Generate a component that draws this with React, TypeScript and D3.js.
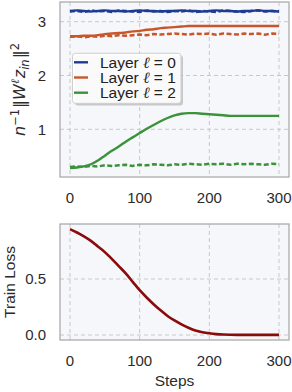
import React from 'react';
import * as d3 from 'd3';

// x positions shared by every series
const steps = [0, 10, 20, 30, 40, 50, 60, 70, 80, 90, 100, 110, 120, 130, 140, 150, 160, 170, 180, 190, 200, 210, 220, 230, 240, 250, 260, 270, 280, 290, 300];

// top panel: solid = trained, dashed = init reference
const blueSolid = [3.20, 3.21, 3.20, 3.19, 3.20, 3.21, 3.20, 3.20, 3.19, 3.20, 3.21, 3.20, 3.20, 3.19, 3.20, 3.20, 3.21, 3.20, 3.20, 3.19, 3.20, 3.21, 3.20, 3.20, 3.19, 3.20, 3.20, 3.21, 3.20, 3.20, 3.19];
const blueDashed = [3.19, 3.20, 3.18, 3.21, 3.19, 3.20, 3.18, 3.21, 3.20, 3.19, 3.18, 3.21, 3.19, 3.20, 3.18, 3.20, 3.19, 3.21, 3.18, 3.20, 3.19, 3.18, 3.21, 3.20, 3.19, 3.18, 3.20, 3.21, 3.19, 3.20, 3.19];
const orangeSolid = [2.73, 2.73, 2.74, 2.74, 2.75, 2.77, 2.78, 2.79, 2.80, 2.82, 2.83, 2.85, 2.86, 2.88, 2.89, 2.90, 2.91, 2.92, 2.92, 2.92, 2.92, 2.92, 2.92, 2.92, 2.92, 2.92, 2.92, 2.92, 2.92, 2.92, 2.92];
const orangeDashed = [2.72, 2.73, 2.71, 2.73, 2.72, 2.74, 2.73, 2.75, 2.74, 2.75, 2.76, 2.75, 2.77, 2.76, 2.77, 2.78, 2.77, 2.76, 2.78, 2.77, 2.78, 2.76, 2.78, 2.77, 2.76, 2.78, 2.77, 2.78, 2.76, 2.78, 2.77];
const greenSolid = [0.28, 0.29, 0.31, 0.35, 0.42, 0.51, 0.60, 0.68, 0.77, 0.85, 0.93, 1.01, 1.08, 1.15, 1.21, 1.26, 1.29, 1.30, 1.30, 1.29, 1.28, 1.27, 1.26, 1.25, 1.25, 1.25, 1.25, 1.25, 1.25, 1.25, 1.25];
const greenDashed = [0.30, 0.31, 0.30, 0.32, 0.31, 0.33, 0.32, 0.33, 0.34, 0.32, 0.34, 0.33, 0.35, 0.34, 0.33, 0.35, 0.34, 0.36, 0.35, 0.34, 0.36, 0.35, 0.36, 0.34, 0.36, 0.35, 0.36, 0.35, 0.34, 0.36, 0.35];

// bottom panel
const trainLoss = [0.945, 0.915, 0.88, 0.84, 0.79, 0.74, 0.68, 0.615, 0.55, 0.475, 0.40, 0.335, 0.275, 0.22, 0.17, 0.13, 0.095, 0.065, 0.04, 0.025, 0.015, 0.008, 0.004, 0.002, 0.001, 0.001, 0.001, 0.001, 0.001, 0.001, 0.001];

const xTicks = [0, 100, 200, 300];
const topYTicks = [1, 2, 3];
const bottomYTicks = [0, 0.5];
const bottomYTickLabels = ['0.0', '0.5'];
const layerLabels = ['0', '1', '2'];
const layerColors = ['#1f3a93', '#c8562a', '#3b923b'];
const lossColor = '#8b0a0a';

const FONT = '"Liberation Sans", Arial, sans-serif';
const MATH = '"DejaVu Sans", sans-serif';
const W = 292;
const H = 392;

const frameL = 60, frameR = 289;
const top = { t: 2, b: 177 };
const bot = { t: 224, b: 340 };

export default function App() {
  const x = d3.scaleLinear().domain([0, 300]).range([70, 279]);
  const yTop = d3.scaleLinear().domain([1, 3]).range([129.3, 21.7]);
  const yBot = d3.scaleLinear().domain([0, 0.5]).range([335, 279]);

  const lineTop = (vals: number[], smooth: boolean) =>
    d3.line<number>()
      .x((_, i) => x(steps[i]))
      .y(d => yTop(d))
      .curve(smooth ? d3.curveMonotoneX : d3.curveLinear)(vals) || '';

  const lossLine = d3.line<number>()
    .x((_, i) => x(steps[i]))
    .y(d => yBot(d))
    .curve(d3.curveMonotoneX)(trainLoss) || '';

  const solids = [blueSolid, orangeSolid, greenSolid];
  const dashes = [blueDashed, orangeDashed, greenDashed];

  const panel = (p: { t: number; b: number }, yScale: d3.ScaleLinear<number, number>, yt: number[], ytl: string[], clipId: string, children: React.ReactNode) => (
    <g>
      <defs>
        <clipPath id={clipId}>
          <rect x={frameL} y={p.t} width={frameR - frameL} height={p.b - p.t} />
        </clipPath>
      </defs>
      <rect x={frameL} y={p.t} width={frameR - frameL} height={p.b - p.t} fill="#f5f7fa" />
      {xTicks.map(t => (
        <line key={'gx' + t} x1={x(t)} x2={x(t)} y1={p.t} y2={p.b} stroke="#c8c8c8" strokeWidth={1} strokeDasharray="4,3" />
      ))}
      {yt.map(t => (
        <line key={'gy' + t} x1={frameL} x2={frameR} y1={yScale(t)} y2={yScale(t)} stroke="#c8c8c8" strokeWidth={1} strokeDasharray="4,3" />
      ))}
      <g clipPath={`url(#${clipId})`}>{children}</g>
      <rect x={frameL} y={p.t} width={frameR - frameL} height={p.b - p.t} fill="none" stroke="#a8a8a8" strokeWidth={1.25} />
      {xTicks.map(t => (
        <text key={'xl' + t} x={x(t)} y={p.b + 26} textAnchor="middle" fontSize={15} fill="#2b2b2b">{t}</text>
      ))}
      {yt.map((t, i) => (
        <text key={'yl' + t} x={46} y={yScale(t)} dy="0.36em" textAnchor="end" fontSize={15} fill="#2b2b2b">{ytl[i]}</text>
      ))}
    </g>
  );

  return (
    <svg width={W} height={H} style={{ position: 'absolute', left: 0, top: 0, fontFamily: FONT }}>
      <rect width={W} height={H} fill="#fff" />

      {panel(top, yTop, topYTicks, topYTicks.map(String), 'clipTop', (
        <g>
          {dashes.map((vals, i) => (
            <path key={'d' + i} d={lineTop(vals, false)} fill="none" stroke={layerColors[i]} strokeWidth={2.5} strokeDasharray="5,2.5" />
          ))}
          {solids.map((vals, i) => (
            <path key={'s' + i} d={lineTop(vals, true)} fill="none" stroke={layerColors[i]} strokeWidth={2.4} />
          ))}
        </g>
      ))}

      {/* legend */}
      <g>
        <rect x={75} y={55.5} width={108} height={50} rx={3} fill="#999" opacity={0.5} />
        <rect x={72.5} y={53.3} width={108.5} height={50} rx={3} fill="#fff" fillOpacity={0.9} stroke="#cfcfcf" strokeWidth={1} />
        {layerLabels.map((l, i) => {
          const yy = 62.3 + i * 15.2;
          return (
            <g key={'lg' + i}>
              <line x1={74} x2={88} y1={yy} y2={yy} stroke={layerColors[i]} strokeWidth={2.4} />
              <text x={100} y={yy} dy="0.36em" fontSize={15.5} fill="#222">
                {'Layer '}
                <tspan fontStyle="italic" fontFamily="DejaVu Serif, serif">ℓ</tspan>
                {' = ' + l}
              </text>
            </g>
          );
        })}
      </g>

      {panel(bot, yBot, bottomYTicks, bottomYTickLabels, 'clipBot', (
        <path d={lossLine} fill="none" stroke={lossColor} strokeWidth={2.6} />
      ))}

      {/* axis labels */}
      <text transform={`translate(25, ${(top.t + top.b) / 2}) rotate(-90)`} textAnchor="middle" fontSize={16} fill="#2b2b2b" fontFamily={MATH}>
        <tspan fontStyle="italic">n</tspan>
        <tspan fontSize={11.5} dy={-6.5}>−1</tspan>
        <tspan dy={6.5} dx={1}>‖</tspan>
        <tspan fontStyle="italic">W</tspan>
        <tspan fontSize={11.5} dy={-6.5} fontStyle="italic" fontFamily="DejaVu Serif, serif">ℓ</tspan>
        <tspan dy={6.5} dx={1} fontStyle="italic">z</tspan>
        <tspan fontSize={11.5} dy={3.5} fontStyle="italic">in</tspan>
        <tspan dy={-3.5} dx={1}>‖</tspan>
        <tspan fontSize={11.5} dy={-6.5}>2</tspan>
      </text>
      <text transform={`translate(14.5, ${(bot.t + bot.b) / 2}) rotate(-90)`} textAnchor="middle" fontSize={15.5} fill="#2b2b2b">Train Loss</text>
      <text x={(frameL + frameR) / 2} y={386} textAnchor="middle" fontSize={15.5} fill="#2b2b2b">Steps</text>
    </svg>
  );
}
